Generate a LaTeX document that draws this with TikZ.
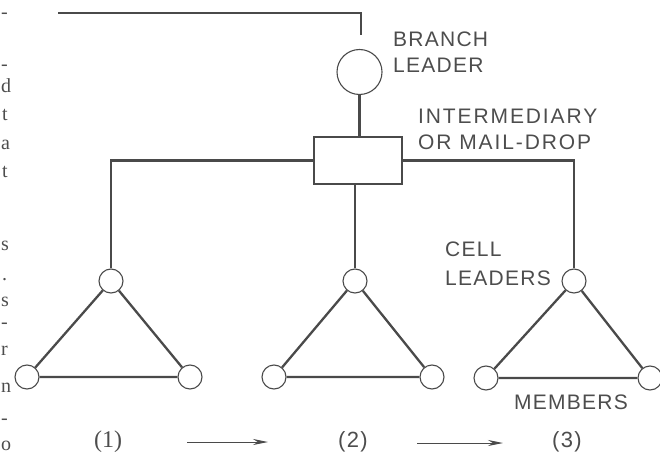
\documentclass[tikz,border=0pt]{standalone}
\usepackage{fontspec}
\setmainfont{Liberation Serif}
\newfontfamily\lblfont[LetterSpace=6]{Liberation Sans}
\usetikzlibrary{arrows.meta}
\definecolor{ink}{HTML}{4A4A4A}
\definecolor{txt}{HTML}{4D4D4D}
\begin{document}
\begin{tikzpicture}[x=1pt,y=-1pt,
  wire/.style={draw=ink,line width=2.3pt},
  member/.style={circle,draw=ink,line width=1.1pt,fill=white,minimum size=24pt,inner sep=0pt},
  boxnode/.style={draw=ink,line width=1.8pt,fill=white,minimum width=88pt,minimum height=47pt,inner sep=0pt},
  lbl/.style={font=\lblfont\fontsize{21}{21}\selectfont,text=txt,anchor=base west,inner sep=0pt},
  numlbl/.style={font=\lblfont\fontsize{22}{22}\selectfont,text=txt,anchor=base,inner sep=0pt},
  frag/.style={font=\fontsize{20}{20}\selectfont,text=txt,anchor=base west,inner sep=0pt},
  flow/.style={draw=ink,line width=1pt,-{Stealth[length=15pt,width=6pt]}}]
\useasboundingbox (0,0) rectangle (660,454);

% margin fragments of the book text
\node[frag] (f0) at (1,19) {-};
\node[frag] (f1) at (1,71) {-};
\node[frag] (f2) at (1,93) {d};
\node[frag] (f3) at (2,121) {t};
\node[frag] (f4) at (1,150) {a};
\node[frag] (f5) at (2,178) {t};
\node[frag] (f6) at (1,250) {s};
\node[frag] (f7) at (2,280) {.};
\node[frag] (f8) at (1,306) {s};
\node[frag] (f9) at (1,328) {-};
\node[frag] (f10) at (1,355) {r};
\node[frag] (f11) at (1,392) {n};
\node[frag] (f12) at (1,424) {-};
\node[frag] (f13) at (1,450) {o};

% nodes
\node[member,minimum size=45pt] (bl) at (359.5,72) {};
\node[boxnode] (md) at (358,160.5) {};
\node[member] (c1) at (111,281) {};
\node[member] (c2) at (355,281) {};
\node[member] (c3) at (574,281) {};
\node[member] (m1a) at (27,377) {};
\node[member] (m1b) at (190,377) {};
\node[member] (m2a) at (274,377) {};
\node[member] (m2b) at (432,377) {};
\node[member] (m3a) at (486,378) {};
\node[member] (m3b) at (650,378) {};

% connectors
\coordinate (tl) at (58,13);
\coordinate (tb) at (361,35);
\draw[wire] (tl) -| (tb);
\draw[wire] (bl.south) -- (bl.south |- md.north);
\draw[wire] (md.west) -| (c1.north);
\draw[wire] (md.east) -| (c3.north);
\draw[wire] (c2.north |- md.south) -- (c2.north);
\draw[wire] (c1) -- (m1a) -- (m1b) -- (c1);
\draw[wire] (c2) -- (m2a) -- (m2b) -- (c2);
\draw[wire] (c3) -- (m3a) -- (m3b) -- (c3);

% labels
\node[lbl] (tbr) at (393,47) {BRANCH};
\node[lbl] (tle) at (393,73) {LEADER};
\node[lbl,font=\lblfont\addfontfeature{LetterSpace=9}\fontsize{21}{21}\selectfont] (tin) at (418,124) {INTERMEDIARY};
\node[lbl,font=\lblfont\addfontfeature{LetterSpace=9}\fontsize{21}{21}\selectfont] (tor) at (418,150) {OR MAIL-DROP};
\node[lbl] (tce) at (445,256) {CELL};
\node[lbl] (tld) at (445,285) {LEADERS};
\node[lbl] (tme) at (514,409) {MEMBERS};

\node[font=\fontsize{24}{24}\selectfont,text=txt,anchor=base,inner sep=0pt] (n1) at (108,447) {(1)};
\node[numlbl] (n2) at (353,447) {(2)};
\node[numlbl] (n3) at (567,447) {(3)};

\coordinate (a1s) at (187,442);
\coordinate (a1e) at (268,442);
\coordinate (a2s) at (417,443);
\coordinate (a2e) at (503,443);
\draw[flow] (a1s) -- (a1e);
\draw[flow] (a2s) -- (a2e);
\end{tikzpicture}
\end{document}
